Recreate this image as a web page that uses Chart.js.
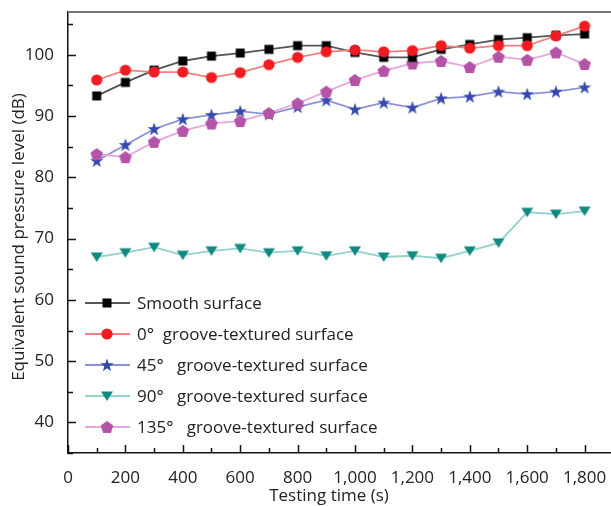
<!DOCTYPE html>
<html>
<head>
<meta charset="utf-8">
<script src="https://cdn.jsdelivr.net/npm/chart.js@4/dist/chart.umd.min.js"></script>
<style>
html, body { margin: 0; padding: 0; background: #fff; }
#wrap { width: 611px; height: 506px; position: relative; }
</style>
</head>
<body>
<div id="wrap"><canvas id="splChart"></canvas></div>
<script>
// testing time (s) and sound pressure level (dB) per surface
const times = [100, 200, 300, 400, 500, 600, 700, 800, 900, 1000, 1100, 1200, 1300, 1400, 1500, 1600, 1700, 1800];
const smooth = [93.3, 95.5, 97.5, 99.0, 99.8, 100.3, 100.9, 101.5, 101.5, 100.4, 99.6, 99.6, 100.9, 101.7, 102.5, 102.8, 103.2, 103.4];
const groove0 = [95.9, 97.5, 97.2, 97.2, 96.3, 97.1, 98.4, 99.6, 100.5, 100.8, 100.5, 100.7, 101.5, 101.1, 101.5, 101.5, 103.1, 104.7];
const groove45 = [82.7, 85.3, 87.9, 89.5, 90.2, 90.8, 90.3, 91.5, 92.6, 91.1, 92.2, 91.4, 92.9, 93.2, 94.0, 93.6, 94.0, 94.7];
const groove90 = [67.0, 67.7, 68.6, 67.3, 68.0, 68.4, 67.7, 68.0, 67.2, 68.0, 67.0, 67.2, 66.8, 68.0, 69.3, 74.3, 74.0, 74.5];
const groove135 = [83.8, 83.3, 85.8, 87.6, 88.8, 89.2, 90.5, 92.1, 94.0, 95.9, 97.4, 98.6, 99.0, 98.0, 99.7, 99.2, 100.4, 98.5];
const seriesNames = ['Smooth surface', '0\u00b0  groove-textured surface', '45\u00b0   groove-textured surface', '90\u00b0   groove-textured surface', '135\u00b0   groove-textured surface'];
const xTicks = [0, 200, 400, 600, 800, 1000, 1200, 1400, 1600, 1800];
const yTicks = [40, 50, 60, 70, 80, 90, 100];
const xTitle = 'Testing time (s)';
const yTitle = 'Equivalent sound pressure level (dB)';

const FONT = "'Open Sans', 'DejaVu Sans', sans-serif";

// small canvases used as point styles
function makeMarker(shape, color) {
  const c = document.createElement('canvas');
  c.width = 16; c.height = 16;
  const g = c.getContext('2d');
  g.fillStyle = color;
  g.beginPath();
  if (shape === 'square') {
    g.rect(3.5, 3.5, 9, 9);
  } else if (shape === 'circle') {
    g.arc(8, 8, 5.6, 0, Math.PI * 2);
  } else if (shape === 'star') {
    for (let i = 0; i < 10; i++) {
      const r = i % 2 ? 2.8 : 7;
      const a = -Math.PI / 2 + i * Math.PI / 5;
      g.lineTo(8 + r * Math.cos(a), 8.5 + r * Math.sin(a));
    }
    g.closePath();
  } else if (shape === 'triangle') {
    g.moveTo(2, 3.5);
    g.lineTo(14, 3.5);
    g.lineTo(8, 13);
    g.closePath();
  } else if (shape === 'pentagon') {
    for (let i = 0; i < 5; i++) {
      const a = -Math.PI / 2 + i * 2 * Math.PI / 5;
      g.lineTo(8 + 6.6 * Math.cos(a), 8.6 + 6.6 * Math.sin(a));
    }
    g.closePath();
  }
  g.fill();
  return c;
}

const styles = [
  { line: '#555555', marker: makeMarker('square', '#000000'), order: 2 },
  { line: '#f57f7f', marker: makeMarker('circle', '#f01c22'), order: 1 },
  { line: '#8c91d6', marker: makeMarker('star', '#3448ae'), order: 4 },
  { line: '#93d2cd', marker: makeMarker('triangle', '#108a80'), order: 5 },
  { line: '#e7a6dd', marker: makeMarker('pentagon', '#b453a7'), order: 3 }
];
const allValues = [smooth, groove0, groove45, groove90, groove135];

const datasets = allValues.map((vals, i) => ({
  label: seriesNames[i],
  data: vals.map((v, k) => ({ x: times[k], y: v })),
  borderColor: styles[i].line,
  borderWidth: 1.8,
  pointStyle: styles[i].marker,
  pointRadius: 6,
  order: styles[i].order,
  tension: 0
}));

// axes frame, inward ticks, axis titles, legend
const framePlugin = {
  id: 'frame',
  beforeDatasetsDraw(chart) {
    const { ctx, chartArea } = chart;
    const xs = chart.scales.x, ys = chart.scales.y;
    ctx.save();
    ctx.strokeStyle = '#777';
    ctx.lineWidth = 2;
    ctx.beginPath();
    ctx.moveTo(chartArea.left, chartArea.top);
    ctx.lineTo(chartArea.right, chartArea.top);
    ctx.stroke();
    ctx.strokeStyle = '#111';
    ctx.lineWidth = 1.5;
    ctx.beginPath();
    for (let v = 35; v <= 105; v += 5) {
      const y = Math.round(ys.getPixelForValue(v)) + 0.5;
      const len = v % 10 === 0 ? 8 : 5;
      ctx.moveTo(chartArea.left, y);
      ctx.lineTo(chartArea.left + len, y);
    }
    for (let v = 0; v <= 1800; v += 100) {
      const x = Math.round(xs.getPixelForValue(v)) + 0.5;
      const len = v % 200 === 0 ? 8 : 5;
      ctx.moveTo(x, chartArea.bottom);
      ctx.lineTo(x, chartArea.bottom - len);
    }
    ctx.stroke();

    ctx.fillStyle = '#222';
    ctx.font = '17px ' + FONT;
    ctx.textAlign = 'center';
    ctx.textBaseline = 'middle';
    ctx.fillText(xTitle, 329, 496);
    ctx.translate(19, 237);
    ctx.rotate(-Math.PI / 2);
    ctx.fillText(yTitle, 0, 0);
    ctx.restore();
  },
  afterDatasetsDraw(chart) {
    const { ctx } = chart;
    ctx.save();
    chart.data.datasets.forEach((ds, i) => {
      const y = 303 + i * 31;
      ctx.strokeStyle = ds.borderColor;
      ctx.lineWidth = 1.8;
      ctx.beginPath();
      ctx.moveTo(85, y);
      ctx.lineTo(130, y);
      ctx.stroke();
      const m = ds.pointStyle;
      ctx.drawImage(m, 107 - m.width / 2, y - m.height / 2);
      ctx.fillStyle = '#222';
      ctx.font = '17px ' + FONT;
      ctx.textBaseline = 'middle';
      ctx.fillText(ds.label, 137, y + 1);
    });
    ctx.restore();
  }
};

new Chart(document.getElementById('splChart'), {
  type: 'line',
  data: { datasets: datasets },
  options: {
    responsive: true,
    maintainAspectRatio: false,
    animation: false,
    devicePixelRatio: 1,
    layout: { autoPadding: false, padding: { top: 12, right: 0, left: 0, bottom: 0 } },
    plugins: { legend: { display: false }, tooltip: { enabled: false } },
    scales: {
      x: {
        type: 'linear',
        min: 0,
        max: 1892,
        afterBuildTicks: s => { s.ticks = xTicks.map(v => ({ value: v })); },
        afterFit: s => { s.height = 53; s.paddingLeft = 0; s.paddingRight = 0; },
        grid: { display: false },
        border: { display: true, color: '#111', width: 1.5 },
        ticks: {
          autoSkip: false,
          maxRotation: 0,
          padding: 7,
          color: '#222',
          font: { family: FONT, size: 17 },
          callback: v => v.toLocaleString('en-US')
        }
      },
      y: {
        min: 35,
        max: 107,
        afterBuildTicks: s => { s.ticks = yTicks.map(v => ({ value: v })); },
        afterFit: s => { s.width = 68; s.paddingTop = 0; s.paddingBottom = 0; },
        grid: { display: false },
        border: { display: true, color: '#111', width: 1.5 },
        ticks: {
          padding: 6,
          color: '#222',
          font: { family: FONT, size: 17 }
        }
      }
    }
  },
  plugins: [framePlugin]
});
</script>
</body>
</html>
